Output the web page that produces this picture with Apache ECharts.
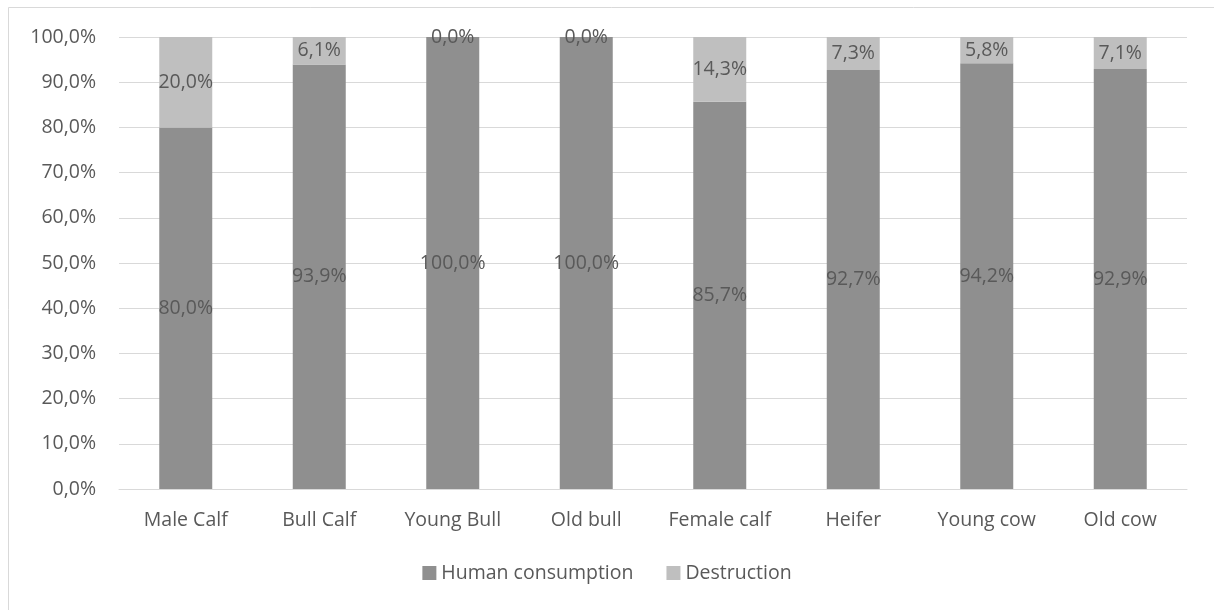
<!DOCTYPE html>
<html>
<head>
<meta charset="utf-8">
<style>
  html, body { margin: 0; padding: 0; background: #fff; }
  #chart { width: 1214px; height: 610px; }
</style>
<script src="https://cdn.jsdelivr.net/npm/echarts@6/dist/echarts.min.js"></script>
</head>
<body>
<div id="chart"></div>
<script>
// Share of carcasses by animal class (percent)
const categories = ['Male Calf', 'Bull Calf', 'Young Bull', 'Old bull', 'Female calf', 'Heifer', 'Young cow', 'Old cow'];
const humanConsumption = [80.0, 93.9, 100.0, 100.0, 85.7, 92.7, 94.2, 92.9];
const destruction = [20.0, 6.1, 0.0, 0.0, 14.3, 7.3, 5.8, 7.1];
const seriesNames = ['Human consumption', 'Destruction'];

const FONT = '"Open Sans", "Liberation Sans", sans-serif';
const SIZE = 19.5;
const TEXT = '#595959';
const pct = v => v.toFixed(1).replace('.', ',') + '%';

const chart = echarts.init(document.getElementById('chart'));
chart.setOption({
  animation: false,
  backgroundColor: '#fff',
  graphic: [{
    type: 'rect',
    shape: { x: 8.5, y: 7.5, width: 1220, height: 620 },
    style: { fill: 'none', stroke: '#d9d9d9', lineWidth: 1 },
    silent: true
  }],
  grid: { left: 119, right: 27, top: 37, bottom: 121, containLabel: false },
  legend: {
    bottom: 22,
    left: 'center',
    itemWidth: 14,
    itemHeight: 14,
    itemGap: 33,
    icon: 'rect',
    textStyle: { color: TEXT, fontSize: SIZE, fontFamily: FONT },
    data: seriesNames
  },
  xAxis: {
    type: 'category',
    data: categories,
    axisLine: { lineStyle: { color: '#d9d9d9', width: 1 } },
    axisTick: { show: false },
    axisLabel: { color: TEXT, fontSize: SIZE, fontFamily: FONT, margin: 21, interval: 0, hideOverlap: false }
  },
  yAxis: {
    type: 'value',
    min: 0,
    max: 100,
    interval: 10,
    axisLine: { show: false },
    axisTick: { show: false },
    splitLine: { lineStyle: { color: '#d9d9d9', width: 1 } },
    axisLabel: { color: TEXT, fontSize: SIZE, fontFamily: FONT, margin: 23, formatter: v => pct(v) }
  },
  series: [
    {
      name: seriesNames[0],
      type: 'bar',
      stack: 'total',
      barWidth: 53,
      data: humanConsumption,
      itemStyle: { color: '#8f8f8f' },
      label: { show: true, position: 'inside', color: TEXT, fontSize: SIZE, fontFamily: FONT, formatter: p => pct(p.value) }
    },
    {
      name: seriesNames[1],
      type: 'bar',
      stack: 'total',
      barWidth: 53,
      data: destruction,
      itemStyle: { color: '#bfbfbf' },
      label: { show: true, position: 'inside', color: TEXT, fontSize: SIZE, fontFamily: FONT, formatter: p => pct(p.value) }
    }
  ]
});
</script>
</body>
</html>
